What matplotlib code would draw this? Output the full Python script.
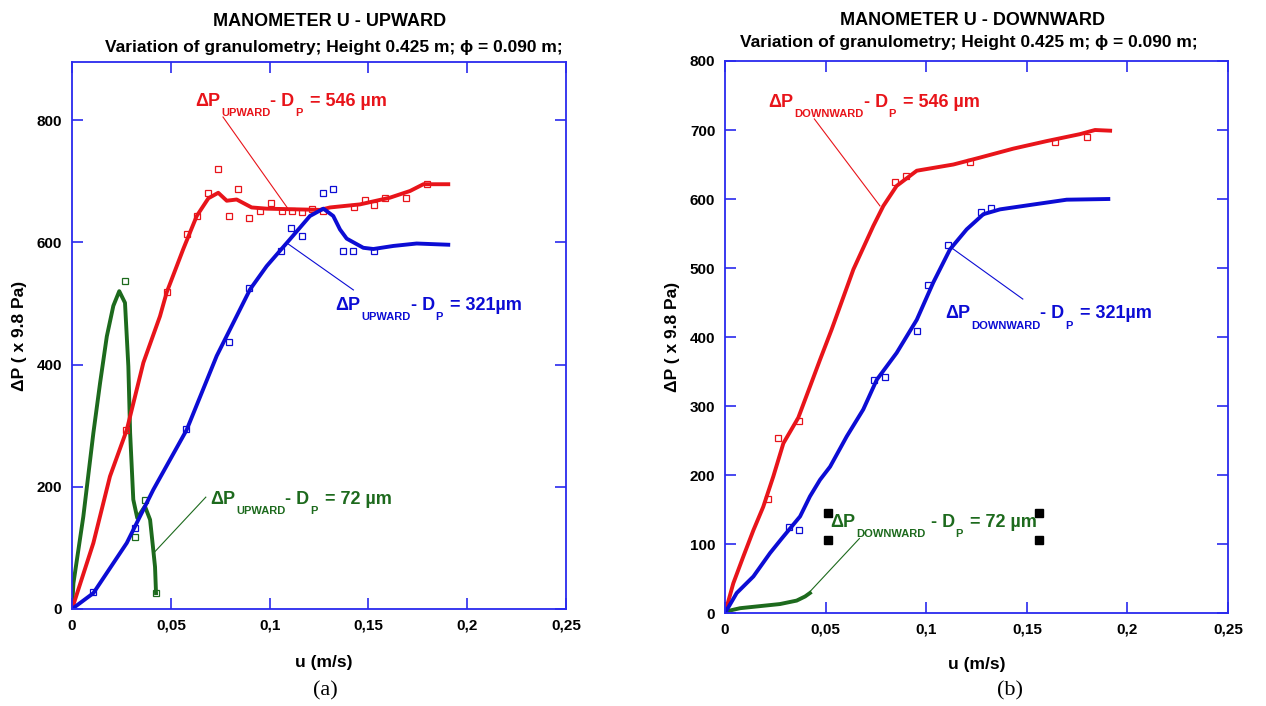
import matplotlib
matplotlib.use("Agg")
import matplotlib.pyplot as plt
from matplotlib.ticker import FuncFormatter, MultipleLocator
from matplotlib.transforms import Bbox

plt.rcParams['font.family'] = ['Liberation Sans', 'DejaVu Sans']
plt.rcParams['font.weight'] = 'bold'

RED = '#e8141a'
BLUE = '#0c0cd4'
GREEN = '#1d6a1d'
SPINE = '#2a2aee'

# ---- (a) upward ----
up546_u = [0, 0.0108, 0.0192, 0.0277, 0.0361, 0.0445, 0.0479, 0.0563, 0.0631, 0.0690, 0.0740,
           0.0783, 0.0833, 0.0909, 0.0985, 0.1120, 0.1255, 0.1306, 0.1457, 0.1609, 0.1711, 0.1778, 0.1904]
up546_p = [0, 108, 217, 293, 403, 479, 518, 589, 643, 672, 681,
           668, 670, 657, 655, 654, 653, 657, 662, 673, 684, 695, 695]
up546_mu = [0.0272, 0.0479, 0.058, 0.0631, 0.0687, 0.074, 0.0796, 0.0842, 0.0897, 0.0951, 0.1006,
            0.1061, 0.1112, 0.1162, 0.1213, 0.1272, 0.1427, 0.1483, 0.1528, 0.1584, 0.169, 0.1795]
up546_mp = [293, 518, 613, 643, 680, 720, 643, 687, 640, 651, 665,
            651, 651, 649, 654, 651, 658, 669, 661, 673, 673, 696]

up321_u = [0, 0.0108, 0.0277, 0.0411, 0.058, 0.0732, 0.0901, 0.0985, 0.1103, 0.1204, 0.1272,
           0.1322, 0.1356, 0.139, 0.1474, 0.1525, 0.1626, 0.1744, 0.1904]
up321_p = [0, 26, 108, 195, 293, 414, 523, 561, 605, 643, 655,
           643, 621, 606, 591, 589, 594, 598, 596]
up321_mu = [0.0108, 0.0319, 0.0577, 0.0796, 0.0897, 0.1058, 0.1107, 0.1162, 0.1272, 0.1319,
            0.137, 0.1424, 0.1528]
up321_mp = [27, 132, 295, 437, 526, 586, 623, 611, 680, 687, 586, 586, 586]

up72_u = [0, 0.0007, 0.0057, 0.0108, 0.0142, 0.0176, 0.0209, 0.0239, 0.0268, 0.0285, 0.0294,
          0.031, 0.033, 0.0369, 0.0395, 0.0411, 0.042, 0.0425]
up72_p = [0, 42, 151, 288, 370, 446, 496, 520, 501, 397, 288, 179, 149, 168, 146, 97, 69, 26]
up72_mu = [0.0268, 0.0319, 0.0369, 0.0425]
up72_mp = [537, 117, 179, 26]

# ---- (b) downward ----
dn546_u = [0, 0.0041, 0.0091, 0.0141, 0.019, 0.024, 0.029, 0.0364, 0.0422, 0.0472, 0.053, 0.0638,
           0.0737, 0.0787, 0.0853, 0.0953, 0.1135, 0.1267, 0.1433, 0.16, 0.1764, 0.1839, 0.1914]
dn546_p = [0, 43, 82, 120, 154, 198, 246, 283, 328, 367, 411, 498,
           561, 590, 619, 641, 650, 660, 673, 684, 694, 700, 699]
dn546_mu = [0.0212, 0.0265, 0.0368, 0.0845, 0.09, 0.1218, 0.164, 0.1798]
dn546_mp = [165, 254, 278, 625, 634, 654, 683, 690]

dn321_u = [0, 0.0058, 0.0141, 0.0224, 0.0282, 0.0373, 0.0422, 0.0472, 0.0522, 0.0605, 0.0687,
           0.0754, 0.0853, 0.0953, 0.1035, 0.1118, 0.1201, 0.1284, 0.1367, 0.1532, 0.1698, 0.1905]
dn321_p = [0, 29, 53, 87, 108, 140, 169, 193, 212, 256, 295,
           338, 377, 425, 479, 527, 556, 578, 585, 592, 599, 600]
dn321_mu = [0.0318, 0.0368, 0.0742, 0.0795, 0.0953, 0.1007, 0.111, 0.1272, 0.1322]
dn321_mp = [124, 120, 337, 342, 408, 476, 533, 581, 587]

dn72_u = [0, 0.0075, 0.0174, 0.0273, 0.0356, 0.0398, 0.0422]
dn72_p = [2, 7, 10, 13, 18, 24, 29]

# labels: subscript word, value text, gap before "- D", x, y (baseline), colour, leader line
up_labels = [
    ('UPWARD', '= 546 µm', 0, 0.0622, 823, RED, [0.0764, 0.1095], [805, 654]),
    ('UPWARD', '= 321µm', 0, 0.1331, 490, BLUE, [0.1095, 0.1424], [597, 522]),
    ('UPWARD', '= 72 µm', 0, 0.0698, 172, GREEN, [0.042, 0.0677], [94, 183]),
]
dn_labels = [
    ('DOWNWARD', '= 546 µm', 0, 0.0214, 734, RED, [0.0444, 0.077], [716, 590]),
    ('DOWNWARD', '= 321µm', 0, 0.1093, 427, BLUE, [0.1127, 0.148], [529, 455]),
    ('DOWNWARD', '= 72 µm', 5, 0.0522, 125, GREEN, [0.0422, 0.0668], [31, 108]),
]


def comma(v, pos):
    if abs(v) < 1e-9:
        return '0'
    return f'{v:g}'.replace('.', ',')


def style_axes(ax, ymax, ystep):
    ax.set_xlim(0, 0.25)
    ax.set_ylim(0, ymax)
    ax.xaxis.set_major_locator(MultipleLocator(0.05))
    ax.yaxis.set_major_locator(MultipleLocator(ystep))
    ax.xaxis.set_major_formatter(FuncFormatter(comma))
    for s in ax.spines.values():
        s.set_color(SPINE)
        s.set_linewidth(1.3)
    ax.tick_params(direction='in', length=8, width=1.2, color=SPINE,
                   top=True, right=True, labelsize=11, pad=7)
    for lab in ax.get_xticklabels() + ax.get_yticklabels():
        lab.set_fontweight('bold')
    ax.set_xlabel('u (m/s)', fontsize=12.5, fontweight='bold')
    ax.set_ylabel('ΔP ( x 9.8 Pa)', fontsize=12.5, fontweight='bold')


def draw_series(ax, u, p, mu, mp, color):
    ax.plot(u, p, color=color, lw=2.8, solid_joinstyle='round')
    if mu:
        ax.plot(mu, mp, 's', ms=3.8, mfc='none', mec=color, mew=0.9)


def rich_label(ax, x, y, sub, value, gap, color):
    # ΔP_sub - D_P = value, built piece by piece so subscripts drop like the original
    parts = [('ΔP', 13, 0, 0), (sub, 8, -7.5, 1), ('- D', 13, 0, gap),
             ('P', 8, -7.5, 1), (value, 13, 0, 7)]
    r = fig.canvas.get_renderer()
    dx = 0.0
    arts = []
    for s, size, drop, g in parts:
        dx += g
        t = ax.annotate(s, xy=(x, y), xytext=(dx * 72 / fig.dpi, drop), textcoords='offset points',
                        color=color, fontsize=size, fontweight='bold', va='baseline', ha='left')
        dx += t.get_window_extent(r).width
        arts.append(t)
    return arts


fig = plt.figure(figsize=(12.66, 7.06), dpi=100)
ax1 = fig.add_axes([0.0569, 0.1374, 0.3902, 0.7748])
ax2 = fig.add_axes([0.5727, 0.1317, 0.3973, 0.7819])

style_axes(ax1, 895, 200)
style_axes(ax2, 800, 100)
ax1.xaxis.set_label_coords(0.51, -0.085)
ax1.yaxis.set_label_coords(-0.092, 0.5)
ax2.xaxis.set_label_coords(0.5, -0.08)
ax2.yaxis.set_label_coords(-0.09, 0.5)

draw_series(ax1, up72_u, up72_p, up72_mu, up72_mp, GREEN)
draw_series(ax1, up546_u, up546_p, up546_mu, up546_mp, RED)
draw_series(ax1, up321_u, up321_p, up321_mu, up321_mp, BLUE)

draw_series(ax2, dn72_u, dn72_p, [], [], GREEN)
draw_series(ax2, dn546_u, dn546_p, dn546_mu, dn546_mp, RED)
draw_series(ax2, dn321_u, dn321_p, dn321_mu, dn321_mp, BLUE)

fig.canvas.draw()
last = None
for ax, labels in ((ax1, up_labels), (ax2, dn_labels)):
    for sub, value, gap, x, y, c, lx, ly in labels:
        ax.plot(lx, ly, color=c, lw=0.8)
        last = rich_label(ax, x, y, sub, value, gap, c)

# selection handles around the green downward label
r = fig.canvas.get_renderer()
bb = Bbox.union([a.get_window_extent(r) for a in last])
inv = ax2.transAxes.inverted()
hx, hy = [], []
for px in (bb.x0 - 2, bb.x1 + 2):
    for py in (bb.y0 - 1, bb.y1 + 1):
        ax_pt = inv.transform((px, py))
        hx.append(ax_pt[0])
        hy.append(ax_pt[1])
ax2.plot(hx, hy, 's', color='black', ms=6, transform=ax2.transAxes, clip_on=False)

fig.text(0.2607, 0.969, 'MANOMETER U - UPWARD', ha='center', va='center', fontsize=13, fontweight='bold')
fig.text(0.2638, 0.933, 'Variation of granulometry; Height 0.425 m; ϕ = 0.090 m;',
         ha='center', va='center', fontsize=12.5, fontweight='bold')
fig.text(0.7678, 0.971, 'MANOMETER U - DOWNWARD', ha='center', va='center', fontsize=13, fontweight='bold')
fig.text(0.7654, 0.940, 'Variation of granulometry; Height 0.425 m; ϕ = 0.090 m;',
         ha='center', va='center', fontsize=12.5, fontweight='bold')

fig.text(0.2567, 0.022, '(a)', ha='center', va='center', fontsize=16,
         family=['Liberation Serif', 'DejaVu Serif'], fontweight='normal')
fig.text(0.7978, 0.022, '(b)', ha='center', va='center', fontsize=16,
         family=['Liberation Serif', 'DejaVu Serif'], fontweight='normal')

fig.savefig('out.png', dpi=100)
